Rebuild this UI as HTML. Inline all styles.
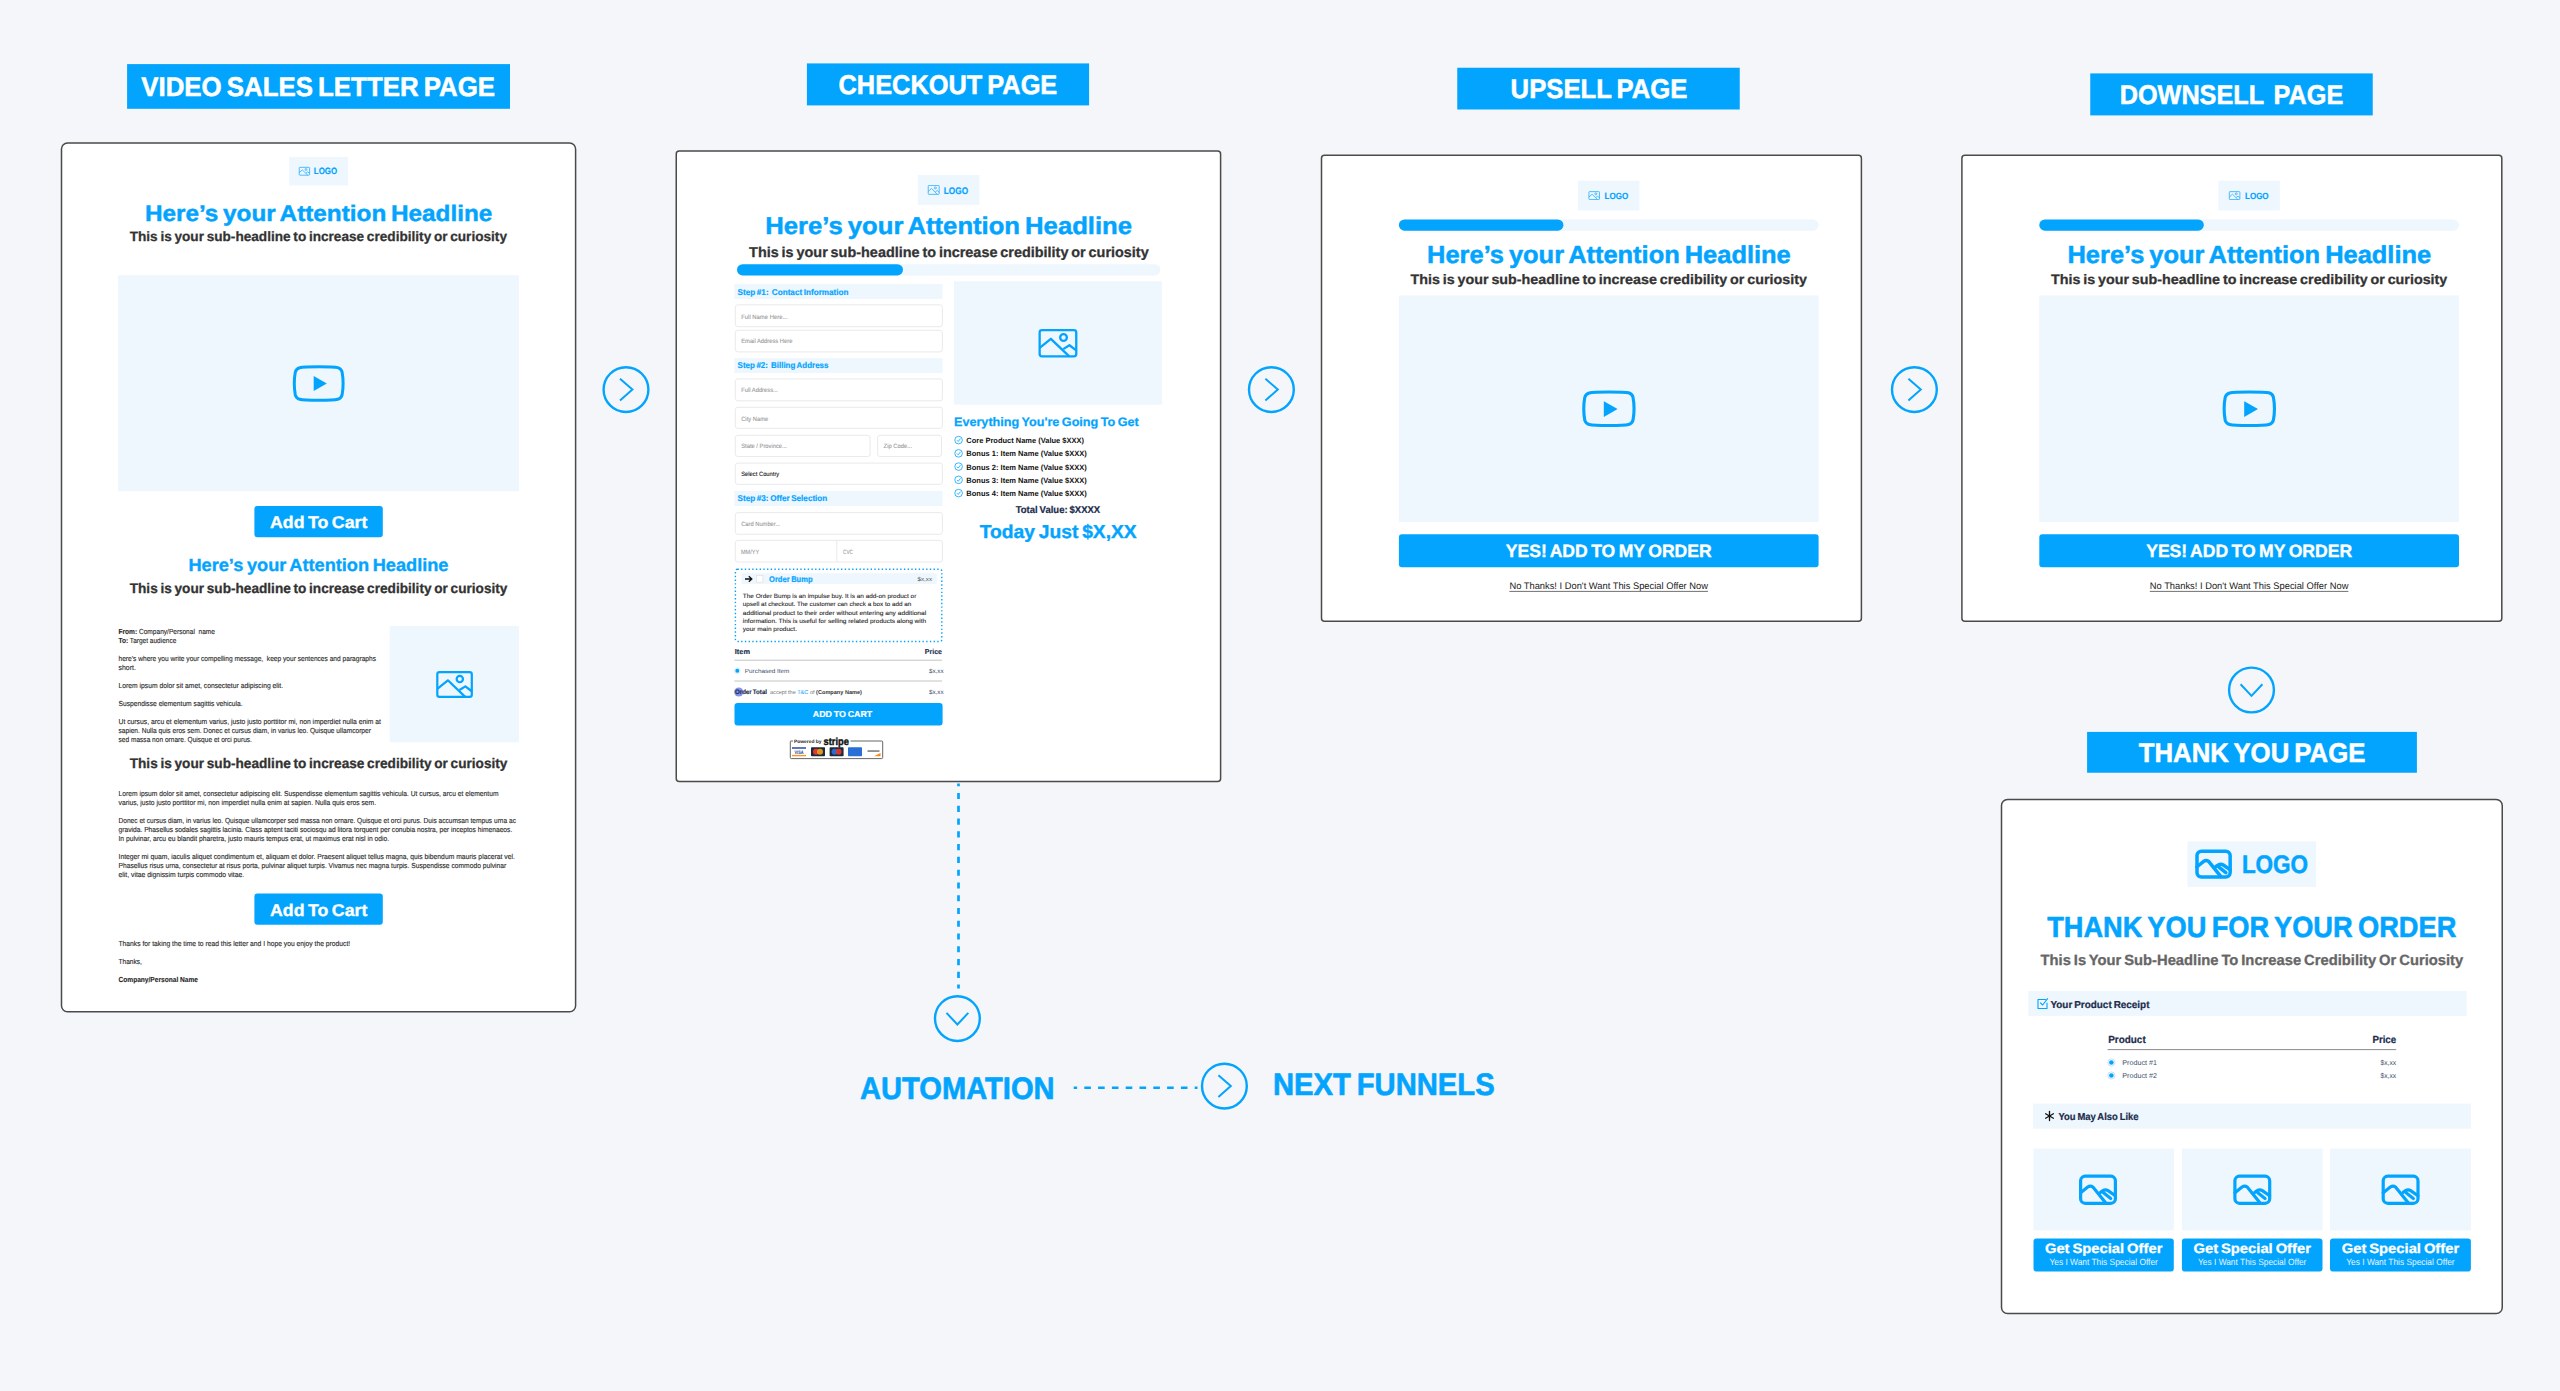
<!DOCTYPE html>
<html><head><meta charset="utf-8"><title>Funnel</title>
<style>html,body{margin:0;padding:0;background:#f4f6f9;overflow:hidden;width:2560px;height:1391px;}svg{display:block;}text{font-family:"Liberation Sans",sans-serif;}</style>
</head><body>
<svg width="2560" height="1391" viewBox="0 0 2560 1391" font-family="Liberation Sans, sans-serif" text-rendering="geometricPrecision">
<rect x="0.00" y="0.00" width="2560.00" height="1391.00" fill="#f4f6f9" />
<rect x="127.10" y="64.10" width="382.90" height="44.70" fill="#03a4fe" />
<text x="318.15" y="96.00" font-size="27.00" fill="#ffffff" font-weight="700" word-spacing="-2.16" stroke="#ffffff" stroke-width="0.54" stroke-linejoin="round" text-anchor="middle" textLength="353.70" lengthAdjust="spacingAndGlyphs" xml:space="preserve">VIDEO SALES LETTER PAGE</text>
<rect x="61.50" y="143.00" width="514.10" height="868.80" rx="6" fill="#ffffff" stroke="#4a4a4a" stroke-width="1.5" />
<rect x="289.30" y="157.00" width="58.60" height="28.40" fill="#eef6fe" />
<g opacity="0.8">
<g fill="none" stroke="#03a4fe" stroke-width="0.85" stroke-linejoin="round">
<rect x="299.23" y="167.33" width="10.35" height="7.85" rx="0.67"/>
<path d="M299.23,172.64 L302.36,169.90 L307.65,175.17"/>
<path d="M305.91,173.03 L307.70,171.86 L309.57,173.43"/>
<circle cx="306.00" cy="169.51" r="0.96"/>
</g>
</g>
<text x="313.80" y="174.00" font-size="9.20" fill="#03a4fe" font-weight="700" word-spacing="-0.74" stroke="#03a4fe" stroke-width="0.18" stroke-linejoin="round" textLength="23.30" lengthAdjust="spacingAndGlyphs" >LOGO</text>
<text x="318.60" y="220.80" font-size="22.60" fill="#03a4fe" font-weight="700" word-spacing="-1.81" stroke="#03a4fe" stroke-width="0.45" stroke-linejoin="round" text-anchor="middle" textLength="347.40" lengthAdjust="spacingAndGlyphs" >Here’s your Attention Headline</text>
<text x="318.35" y="241.30" font-size="13.60" fill="#333333" font-weight="700" word-spacing="-1.09" stroke="#333333" stroke-width="0.27" stroke-linejoin="round" text-anchor="middle" textLength="377.30" lengthAdjust="spacingAndGlyphs" >This is your sub-headline to increase credibility or curiosity</text>
<rect x="118.20" y="275.30" width="400.70" height="216.00" fill="#eef6fe" />
<path transform="translate(294.30,366.70) scale(2.2182,2.1734) translate(-1,-4)" d="M22.54 6.42a2.78 2.78 0 0 0-1.94-2C18.88 4 12 4 12 4s-6.88 0-8.6.46a2.78 2.78 0 0 0-1.94 2A29 29 0 0 0 1 11.75a29 29 0 0 0 .46 5.33A2.78 2.78 0 0 0 3.4 19c1.72.46 8.6.46 8.6.46s6.88 0 8.6-.46a2.78 2.78 0 0 0 1.94-2 29 29 0 0 0 .46-5.25 29 29 0 0 0-.46-5.33z" fill="none" stroke="#03a4fe" stroke-width="3.0" vector-effect="non-scaling-stroke" stroke-linejoin="round"/>
<path d="M313.70,376.00 L326.80,383.45 L313.70,390.90 Z" fill="#03a4fe"/>
<rect x="254.40" y="505.90" width="128.40" height="31.35" rx="3" fill="#03a4fe" />
<text x="318.65" y="528.00" font-size="17.00" fill="#ffffff" font-weight="700" word-spacing="-1.36" stroke="#ffffff" stroke-width="0.34" stroke-linejoin="round" text-anchor="middle" textLength="97.30" lengthAdjust="spacingAndGlyphs" >Add To Cart</text>
<text x="318.45" y="571.20" font-size="17.60" fill="#03a4fe" font-weight="700" word-spacing="-1.41" stroke="#03a4fe" stroke-width="0.35" stroke-linejoin="round" text-anchor="middle" textLength="260.10" lengthAdjust="spacingAndGlyphs" >Here’s your Attention Headline</text>
<text x="318.55" y="593.00" font-size="13.90" fill="#333333" font-weight="700" word-spacing="-1.11" stroke="#333333" stroke-width="0.28" stroke-linejoin="round" text-anchor="middle" textLength="377.70" lengthAdjust="spacingAndGlyphs" >This is your sub-headline to increase credibility or curiosity</text>
<text x="118.5" y="633.9" font-size="7.3" fill="#262626" stroke="#262626" stroke-width="0.11" textLength="96.5" lengthAdjust="spacingAndGlyphs" xml:space="preserve"><tspan font-weight="700">From:</tspan> Company/Personal  name</text>
<text x="118.5" y="642.9" font-size="7.3" fill="#262626" stroke="#262626" stroke-width="0.11" textLength="57.9" lengthAdjust="spacingAndGlyphs"><tspan font-weight="700">To:</tspan> Target audience</text>
<text x="118.50" y="661.10" font-size="7.30" fill="#262626" stroke="#262626" stroke-width="0.11" stroke-linejoin="round" textLength="257.50" lengthAdjust="spacingAndGlyphs" xml:space="preserve">here’s where you write your compelling message,  keep your sentences and paragraphs</text>
<text x="118.50" y="670.00" font-size="7.30" fill="#262626" stroke="#262626" stroke-width="0.11" stroke-linejoin="round" textLength="17.30" lengthAdjust="spacingAndGlyphs" >short.</text>
<text x="118.50" y="688.00" font-size="7.30" fill="#262626" stroke="#262626" stroke-width="0.11" stroke-linejoin="round" textLength="164.60" lengthAdjust="spacingAndGlyphs" >Lorem ipsum dolor sit amet, consectetur adipiscing elit.</text>
<text x="118.50" y="706.20" font-size="7.30" fill="#262626" stroke="#262626" stroke-width="0.11" stroke-linejoin="round" textLength="124.10" lengthAdjust="spacingAndGlyphs" >Suspendisse elementum sagittis vehicula.</text>
<text x="118.50" y="724.30" font-size="7.30" fill="#262626" stroke="#262626" stroke-width="0.11" stroke-linejoin="round" textLength="262.50" lengthAdjust="spacingAndGlyphs" >Ut cursus, arcu et elementum varius, justo justo porttitor mi, non imperdiet nulla enim at</text>
<text x="118.50" y="733.30" font-size="7.30" fill="#262626" stroke="#262626" stroke-width="0.11" stroke-linejoin="round" textLength="252.40" lengthAdjust="spacingAndGlyphs" >sapien. Nulla quis eros sem. Donec et cursus diam, in varius leo. Quisque ullamcorper</text>
<text x="118.50" y="742.30" font-size="7.30" fill="#262626" stroke="#262626" stroke-width="0.11" stroke-linejoin="round" textLength="133.40" lengthAdjust="spacingAndGlyphs" >sed massa non ornare. Quisque et orci purus.</text>
<rect x="389.70" y="625.85" width="129.20" height="116.45" fill="#eef6fe" />
<g fill="none" stroke="#03a4fe" stroke-width="2.2" stroke-linejoin="round">
<rect x="437.30" y="672.10" width="34.50" height="24.80" rx="2.20"/>
<path d="M437.30,688.82 L447.87,680.32 L465.19,696.90"/>
<path d="M459.50,690.03 L465.38,686.39 L471.80,691.25"/>
<circle cx="459.80" cy="679.10" r="3.16"/>
</g>
<text x="318.55" y="767.80" font-size="13.90" fill="#333333" font-weight="700" word-spacing="-1.11" stroke="#333333" stroke-width="0.28" stroke-linejoin="round" text-anchor="middle" textLength="377.70" lengthAdjust="spacingAndGlyphs" >This is your sub-headline to increase credibility or curiosity</text>
<text x="118.50" y="795.50" font-size="7.30" fill="#262626" stroke="#262626" stroke-width="0.11" stroke-linejoin="round" textLength="380.00" lengthAdjust="spacingAndGlyphs" >Lorem ipsum dolor sit amet, consectetur adipiscing elit. Suspendisse elementum sagittis vehicula. Ut cursus, arcu et elementum</text>
<text x="118.50" y="804.50" font-size="7.30" fill="#262626" stroke="#262626" stroke-width="0.11" stroke-linejoin="round" textLength="257.60" lengthAdjust="spacingAndGlyphs" >varius, justo justo porttitor mi, non imperdiet nulla enim at sapien. Nulla quis eros sem.</text>
<text x="118.50" y="822.70" font-size="7.30" fill="#262626" stroke="#262626" stroke-width="0.11" stroke-linejoin="round" textLength="397.50" lengthAdjust="spacingAndGlyphs" >Donec et cursus diam, in varius leo. Quisque ullamcorper sed massa non ornare. Quisque et orci purus. Duis accumsan tempus urna ac</text>
<text x="118.50" y="831.70" font-size="7.30" fill="#262626" stroke="#262626" stroke-width="0.11" stroke-linejoin="round" textLength="393.80" lengthAdjust="spacingAndGlyphs" >gravida. Phasellus sodales sagittis lacinia. Class aptent taciti sociosqu ad litora torquent per conubia nostra, per inceptos himenaeos.</text>
<text x="118.50" y="840.80" font-size="7.30" fill="#262626" stroke="#262626" stroke-width="0.11" stroke-linejoin="round" textLength="270.70" lengthAdjust="spacingAndGlyphs" >In pulvinar, arcu eu blandit pharetra, justo mauris tempus erat, ut maximus erat nisl in odio.</text>
<text x="118.50" y="858.80" font-size="7.30" fill="#262626" stroke="#262626" stroke-width="0.11" stroke-linejoin="round" textLength="396.40" lengthAdjust="spacingAndGlyphs" >Integer mi quam, iaculis aliquet condimentum et, aliquam et dolor. Praesent aliquet tellus magna, quis bibendum mauris placerat vel.</text>
<text x="118.50" y="867.80" font-size="7.30" fill="#262626" stroke="#262626" stroke-width="0.11" stroke-linejoin="round" textLength="387.70" lengthAdjust="spacingAndGlyphs" >Phasellus risus urna, consectetur at risus porta, pulvinar aliquet turpis. Vivamus nec magna turpis. Suspendisse commodo pulvinar</text>
<text x="118.50" y="876.90" font-size="7.30" fill="#262626" stroke="#262626" stroke-width="0.11" stroke-linejoin="round" textLength="125.70" lengthAdjust="spacingAndGlyphs" >elit, vitae dignissim turpis commodo vitae.</text>
<rect x="254.40" y="893.40" width="128.40" height="31.30" rx="3" fill="#03a4fe" />
<text x="318.65" y="915.50" font-size="17.00" fill="#ffffff" font-weight="700" word-spacing="-1.36" stroke="#ffffff" stroke-width="0.34" stroke-linejoin="round" text-anchor="middle" textLength="97.30" lengthAdjust="spacingAndGlyphs" >Add To Cart</text>
<text x="118.50" y="945.60" font-size="7.30" fill="#262626" stroke="#262626" stroke-width="0.11" stroke-linejoin="round" textLength="231.70" lengthAdjust="spacingAndGlyphs" >Thanks for taking the time to read this letter and I hope you enjoy the product!</text>
<text x="118.50" y="963.70" font-size="7.30" fill="#262626" stroke="#262626" stroke-width="0.11" stroke-linejoin="round" textLength="23.40" lengthAdjust="spacingAndGlyphs" >Thanks,</text>
<text x="118.50" y="981.70" font-size="7.30" fill="#262626" font-weight="700" stroke="#262626" stroke-width="0.11" stroke-linejoin="round" textLength="79.50" lengthAdjust="spacingAndGlyphs" >Company/Personal Name</text>
<rect x="806.90" y="63.40" width="282.20" height="42.00" fill="#03a4fe" />
<text x="947.90" y="94.40" font-size="27.00" fill="#ffffff" font-weight="700" word-spacing="-2.16" stroke="#ffffff" stroke-width="0.54" stroke-linejoin="round" text-anchor="middle" textLength="218.80" lengthAdjust="spacingAndGlyphs" xml:space="preserve">CHECKOUT PAGE</text>
<rect x="676.25" y="151.00" width="544.35" height="630.50" rx="3" fill="#ffffff" stroke="#4a4a4a" stroke-width="1.5" />
<rect x="917.75" y="175.00" width="61.65" height="29.80" fill="#eef6fe" />
<g opacity="0.8">
<g fill="none" stroke="#03a4fe" stroke-width="0.85" stroke-linejoin="round">
<rect x="928.22" y="185.43" width="10.95" height="8.95" rx="0.71"/>
<path d="M928.22,191.47 L931.55,188.38 L937.12,194.38"/>
<path d="M935.29,191.91 L937.18,190.59 L939.18,192.35"/>
<circle cx="935.39" cy="187.94" r="1.01"/>
</g>
</g>
<text x="943.80" y="193.80" font-size="9.60" fill="#03a4fe" font-weight="700" word-spacing="-0.77" stroke="#03a4fe" stroke-width="0.19" stroke-linejoin="round" textLength="24.30" lengthAdjust="spacingAndGlyphs" >LOGO</text>
<text x="948.65" y="234.20" font-size="24.20" fill="#03a4fe" font-weight="700" word-spacing="-1.94" stroke="#03a4fe" stroke-width="0.48" stroke-linejoin="round" text-anchor="middle" textLength="366.70" lengthAdjust="spacingAndGlyphs" >Here’s your Attention Headline</text>
<text x="948.90" y="256.60" font-size="14.20" fill="#333333" font-weight="700" word-spacing="-1.14" stroke="#333333" stroke-width="0.28" stroke-linejoin="round" text-anchor="middle" textLength="399.60" lengthAdjust="spacingAndGlyphs" >This is your sub-headline to increase credibility or curiosity</text>
<rect x="737.00" y="264.20" width="423.40" height="11.30" rx="5.65" fill="#eef6fe" />
<rect x="737.00" y="264.20" width="166.00" height="11.30" rx="5.65" fill="#03a4fe" />
<rect x="734.40" y="284.00" width="208.10" height="14.90" fill="#eef6fe" />
<text x="737.60" y="294.70" font-size="8.40" fill="#03a4fe" font-weight="700" word-spacing="-0.67" stroke="#03a4fe" stroke-width="0.17" stroke-linejoin="round" textLength="110.90" lengthAdjust="spacingAndGlyphs" xml:space="preserve">Step #1:  Contact Information</text>
<rect x="735.30" y="304.80" width="207.10" height="21.90" rx="2.5" fill="#ffffff" stroke="#e4e4e4" stroke-width="0.8" />
<text x="741.20" y="318.60" font-size="6.20" fill="#9d9d9d" stroke="#9d9d9d" stroke-width="0.12" stroke-linejoin="round" textLength="46.20" lengthAdjust="spacingAndGlyphs" >Full Name Here...</text>
<rect x="735.30" y="330.30" width="207.10" height="21.60" rx="2.5" fill="#ffffff" stroke="#e4e4e4" stroke-width="0.8" />
<text x="741.20" y="342.90" font-size="6.20" fill="#9d9d9d" stroke="#9d9d9d" stroke-width="0.12" stroke-linejoin="round" textLength="51.20" lengthAdjust="spacingAndGlyphs" >Email Address Here</text>
<rect x="734.40" y="358.20" width="208.10" height="14.70" fill="#eef6fe" />
<text x="737.60" y="368.40" font-size="8.40" fill="#03a4fe" font-weight="700" word-spacing="-0.67" stroke="#03a4fe" stroke-width="0.17" stroke-linejoin="round" textLength="90.80" lengthAdjust="spacingAndGlyphs" xml:space="preserve">Step #2:  Billing Address</text>
<rect x="735.30" y="378.90" width="207.10" height="21.90" rx="2.5" fill="#ffffff" stroke="#e4e4e4" stroke-width="0.8" />
<text x="741.20" y="392.30" font-size="6.20" fill="#9d9d9d" stroke="#9d9d9d" stroke-width="0.12" stroke-linejoin="round" textLength="36.70" lengthAdjust="spacingAndGlyphs" >Full Address...</text>
<rect x="735.30" y="407.30" width="207.10" height="21.10" rx="2.5" fill="#ffffff" stroke="#e4e4e4" stroke-width="0.8" />
<text x="741.20" y="420.70" font-size="6.20" fill="#9d9d9d" stroke="#9d9d9d" stroke-width="0.12" stroke-linejoin="round" textLength="27.00" lengthAdjust="spacingAndGlyphs" >City Name</text>
<rect x="735.30" y="435.30" width="134.80" height="21.20" rx="2.5" fill="#ffffff" stroke="#e4e4e4" stroke-width="0.8" />
<text x="741.20" y="448.20" font-size="6.20" fill="#9d9d9d" stroke="#9d9d9d" stroke-width="0.12" stroke-linejoin="round" textLength="45.70" lengthAdjust="spacingAndGlyphs" >State / Province...</text>
<rect x="877.60" y="435.30" width="63.90" height="21.20" rx="2.5" fill="#ffffff" stroke="#e4e4e4" stroke-width="0.8" />
<text x="883.60" y="448.20" font-size="6.20" fill="#9d9d9d" stroke="#9d9d9d" stroke-width="0.12" stroke-linejoin="round" textLength="28.40" lengthAdjust="spacingAndGlyphs" >Zip Code...</text>
<rect x="735.30" y="463.10" width="207.10" height="21.30" rx="2.5" fill="#ffffff" stroke="#e4e4e4" stroke-width="0.8" />
<text x="741.20" y="476.30" font-size="6.20" fill="#222222" stroke="#222222" stroke-width="0.12" stroke-linejoin="round" textLength="38.10" lengthAdjust="spacingAndGlyphs" >Select Country</text>
<rect x="734.40" y="491.00" width="208.10" height="14.90" fill="#eef6fe" />
<text x="737.60" y="501.25" font-size="8.40" fill="#03a4fe" font-weight="700" word-spacing="-0.67" stroke="#03a4fe" stroke-width="0.17" stroke-linejoin="round" textLength="89.70" lengthAdjust="spacingAndGlyphs" xml:space="preserve">Step #3: Offer Selection</text>
<rect x="735.30" y="512.60" width="207.10" height="21.70" rx="2.5" fill="#ffffff" stroke="#e4e4e4" stroke-width="0.8" />
<text x="741.20" y="525.70" font-size="6.20" fill="#9d9d9d" stroke="#9d9d9d" stroke-width="0.12" stroke-linejoin="round" textLength="39.00" lengthAdjust="spacingAndGlyphs" >Card Number...</text>
<rect x="735.30" y="540.40" width="207.10" height="21.60" rx="2.5" fill="#ffffff" stroke="#e4e4e4" stroke-width="0.8" />
<line x1="836.8" y1="540.8" x2="836.8" y2="561.6" stroke="#e4e4e4" stroke-width="0.8"/>
<text x="741.00" y="553.90" font-size="6.20" fill="#9d9d9d" stroke="#9d9d9d" stroke-width="0.12" stroke-linejoin="round" textLength="18.20" lengthAdjust="spacingAndGlyphs" >MM/YY</text>
<text x="843.10" y="553.90" font-size="6.20" fill="#9d9d9d" stroke="#9d9d9d" stroke-width="0.12" stroke-linejoin="round" textLength="9.90" lengthAdjust="spacingAndGlyphs" >CVC</text>
<rect x="735.4" y="569.2" width="206.4" height="72.3" fill="none" stroke="#03a4fe" stroke-width="1.4" stroke-dasharray="1.4,2.3" rx="2"/>
<rect x="741.60" y="573.30" width="195.00" height="10.70" fill="#eef6fe" />
<path d="M745,579 L751.5,579 M748.8,576.2 L751.8,579 L748.8,581.8" fill="none" stroke="#111" stroke-width="1.3"/>
<rect x="756.30" y="575.60" width="6.60" height="6.60" fill="#ffffff" stroke="#dddddd" stroke-width="0.6" />
<text x="769.00" y="581.80" font-size="8.30" fill="#03a4fe" font-weight="700" word-spacing="-0.66" stroke="#03a4fe" stroke-width="0.17" stroke-linejoin="round" textLength="43.60" lengthAdjust="spacingAndGlyphs" >Order Bump</text>
<text x="917.50" y="580.50" font-size="5.60" fill="#555555" textLength="14.50" lengthAdjust="spacingAndGlyphs" >$x,xx</text>
<text x="742.80" y="598.00" font-size="6.00" fill="#262626" stroke="#262626" stroke-width="0.09" stroke-linejoin="round" textLength="173.50" lengthAdjust="spacingAndGlyphs" >The Order Bump is an impulse buy. It is an add-on product or</text>
<text x="742.80" y="606.20" font-size="6.00" fill="#262626" stroke="#262626" stroke-width="0.09" stroke-linejoin="round" textLength="168.60" lengthAdjust="spacingAndGlyphs" >upsell at checkout. The customer can check a box to add an</text>
<text x="742.80" y="614.50" font-size="6.00" fill="#262626" stroke="#262626" stroke-width="0.09" stroke-linejoin="round" textLength="183.40" lengthAdjust="spacingAndGlyphs" >additional product to their order without entering any additional</text>
<text x="742.80" y="622.80" font-size="6.00" fill="#262626" stroke="#262626" stroke-width="0.09" stroke-linejoin="round" textLength="183.40" lengthAdjust="spacingAndGlyphs" >information. This is useful for selling related products along with</text>
<text x="742.80" y="631.20" font-size="6.00" fill="#262626" stroke="#262626" stroke-width="0.09" stroke-linejoin="round" textLength="54.20" lengthAdjust="spacingAndGlyphs" >your main product.</text>
<text x="734.80" y="653.60" font-size="7.20" fill="#1c2d4c" font-weight="700" word-spacing="-0.58" stroke="#1c2d4c" stroke-width="0.14" stroke-linejoin="round" textLength="15.20" lengthAdjust="spacingAndGlyphs" >Item</text>
<text x="924.80" y="653.60" font-size="7.20" fill="#1c2d4c" font-weight="700" word-spacing="-0.58" stroke="#1c2d4c" stroke-width="0.14" stroke-linejoin="round" textLength="17.20" lengthAdjust="spacingAndGlyphs" >Price</text>
<line x1="734.4" y1="660.2" x2="942" y2="660.2" stroke="#bdbdbd" stroke-width="0.9"/>
<circle cx="737.3" cy="670.75" r="3.2" fill="#dbeeff"/><circle cx="737.3" cy="670.75" r="1.9" fill="#03a4fe"/>
<text x="744.80" y="672.80" font-size="6.00" fill="#3d4f6b" textLength="44.60" lengthAdjust="spacingAndGlyphs" >Purchased Item</text>
<text x="929.00" y="672.80" font-size="6.00" fill="#3d4f6b" textLength="14.60" lengthAdjust="spacingAndGlyphs" >$x,xx</text>
<line x1="734.4" y1="681" x2="942" y2="681" stroke="#bdbdbd" stroke-width="0.9"/>
<circle cx="738.75" cy="692" r="4.6" fill="#5b6ee8" opacity="0.75"/>
<text x="735.00" y="694.40" font-size="6.60" fill="#1c2d4c" font-weight="700" word-spacing="-0.53" stroke="#1c2d4c" stroke-width="0.13" stroke-linejoin="round" textLength="32.00" lengthAdjust="spacingAndGlyphs" >Order Total</text>
<text x="770" y="694" font-size="5.6" fill="#777" textLength="92" lengthAdjust="spacingAndGlyphs">accept the <tspan fill="#03a4fe">T&amp;C</tspan> of <tspan font-weight="700" fill="#333">(Company Name)</tspan></text>
<text x="929.00" y="694.40" font-size="6.00" fill="#3d4f6b" textLength="14.60" lengthAdjust="spacingAndGlyphs" >$x,xx</text>
<rect x="734.50" y="703.00" width="208.10" height="22.50" rx="3" fill="#03a4fe" />
<text x="842.55" y="717.00" font-size="8.60" fill="#ffffff" font-weight="700" word-spacing="-0.69" stroke="#ffffff" stroke-width="0.17" stroke-linejoin="round" text-anchor="middle" textLength="59.50" lengthAdjust="spacingAndGlyphs" >ADD TO CART</text>
<path d="M793,741 L790.8,741 Q790.3,741 790.3,742 L790.3,757.6 Q790.3,758.6 791.3,758.6 L881.7,758.6 Q882.7,758.6 882.7,757.6 L882.7,742 Q882.7,741 881.7,741 L850.5,741" fill="none" stroke="#555" stroke-width="0.9"/>
<text x="794.00" y="742.60" font-size="4.80" fill="#222" font-weight="700" textLength="27.50" lengthAdjust="spacingAndGlyphs" >Powered by</text>
<text x="823.60" y="744.60" font-size="10.50" fill="#111" font-weight="700" stroke="#111" stroke-width="0.42" stroke-linejoin="round" textLength="25.30" lengthAdjust="spacingAndGlyphs" >stripe</text>
<rect x="792.00" y="747.30" width="14.00" height="9.00" fill="#ffffff" />
<rect x="792.00" y="747.30" width="14.00" height="1.40" fill="#1a3fa3" />
<rect x="792.00" y="754.90" width="14.00" height="1.40" fill="#f29a1f" />
<text x="794.50" y="753.60" font-size="5.00" fill="#1a3fa3" font-weight="700" textLength="9.00" lengthAdjust="spacingAndGlyphs" >VISA</text>
<rect x="811.00" y="747.30" width="14.00" height="9.00" rx="0.8" fill="#1d2a3a" />
<circle cx="816" cy="751.8" r="3" fill="#e23a2e"/><circle cx="820" cy="751.8" r="3" fill="#f4a11c" opacity="0.9"/>
<rect x="829.60" y="747.30" width="14.00" height="9.00" rx="0.8" fill="#1d2a3a" />
<circle cx="834.6" cy="751.8" r="3" fill="#2b6bd1"/><circle cx="838.6" cy="751.8" r="3" fill="#e23a2e" opacity="0.9"/>
<rect x="848.00" y="747.30" width="14.00" height="9.00" rx="0.8" fill="#2a6fd6" />
<rect x="866.50" y="747.30" width="14.00" height="9.00" fill="#ffffff" />
<rect x="867.50" y="750.30" width="12.00" height="1.50" fill="#777" />
<path d="M874,756.3 L880.5,756.3 L880.5,753 Z" fill="#f28a1f"/>
<rect x="954.00" y="281.40" width="207.80" height="123.20" fill="#eef6fe" />
<g fill="none" stroke="#03a4fe" stroke-width="2.3" stroke-linejoin="round">
<rect x="1039.65" y="330.05" width="36.60" height="26.40" rx="2.33"/>
<path d="M1039.65,347.84 L1050.87,338.80 L1069.23,356.45"/>
<path d="M1063.20,349.13 L1069.43,345.26 L1076.25,350.43"/>
<circle cx="1063.51" cy="337.51" r="3.35"/>
</g>
<text x="954.00" y="426.00" font-size="12.30" fill="#03a4fe" font-weight="700" word-spacing="-0.98" stroke="#03a4fe" stroke-width="0.25" stroke-linejoin="round" textLength="184.80" lengthAdjust="spacingAndGlyphs" >Everything You're Going To Get</text>
<circle cx="958.60" cy="440.10" r="3.8" fill="none" stroke="#03a4fe" stroke-width="0.8"/>
<path d="M956.90,440.20 L958.20,441.50 L960.50,438.60" fill="none" stroke="#03a4fe" stroke-width="0.8"/>
<text x="966.30" y="443.00" font-size="7.60" fill="#111111" font-weight="700" textLength="117.70" lengthAdjust="spacingAndGlyphs" >Core Product Name (Value $XXX)</text>
<circle cx="958.60" cy="453.35" r="3.8" fill="none" stroke="#03a4fe" stroke-width="0.8"/>
<path d="M956.90,453.45 L958.20,454.75 L960.50,451.85" fill="none" stroke="#03a4fe" stroke-width="0.8"/>
<text x="966.30" y="456.25" font-size="7.60" fill="#111111" font-weight="700" textLength="120.40" lengthAdjust="spacingAndGlyphs" >Bonus 1: Item Name (Value $XXX)</text>
<circle cx="958.60" cy="466.60" r="3.8" fill="none" stroke="#03a4fe" stroke-width="0.8"/>
<path d="M956.90,466.70 L958.20,468.00 L960.50,465.10" fill="none" stroke="#03a4fe" stroke-width="0.8"/>
<text x="966.30" y="469.50" font-size="7.60" fill="#111111" font-weight="700" textLength="120.40" lengthAdjust="spacingAndGlyphs" >Bonus 2: Item Name (Value $XXX)</text>
<circle cx="958.60" cy="479.85" r="3.8" fill="none" stroke="#03a4fe" stroke-width="0.8"/>
<path d="M956.90,479.95 L958.20,481.25 L960.50,478.35" fill="none" stroke="#03a4fe" stroke-width="0.8"/>
<text x="966.30" y="482.75" font-size="7.60" fill="#111111" font-weight="700" textLength="120.40" lengthAdjust="spacingAndGlyphs" >Bonus 3: Item Name (Value $XXX)</text>
<circle cx="958.60" cy="493.10" r="3.8" fill="none" stroke="#03a4fe" stroke-width="0.8"/>
<path d="M956.90,493.20 L958.20,494.50 L960.50,491.60" fill="none" stroke="#03a4fe" stroke-width="0.8"/>
<text x="966.30" y="496.00" font-size="7.60" fill="#111111" font-weight="700" textLength="120.40" lengthAdjust="spacingAndGlyphs" >Bonus 4: Item Name (Value $XXX)</text>
<text x="1057.95" y="512.60" font-size="10.00" fill="#1c2d4c" font-weight="700" word-spacing="-0.80" stroke="#1c2d4c" stroke-width="0.20" stroke-linejoin="round" text-anchor="middle" textLength="84.50" lengthAdjust="spacingAndGlyphs" >Total Value: $XXXX</text>
<text x="1058.22" y="538.10" font-size="18.80" fill="#03a4fe" font-weight="700" word-spacing="-1.50" stroke="#03a4fe" stroke-width="0.38" stroke-linejoin="round" text-anchor="middle" textLength="156.95" lengthAdjust="spacingAndGlyphs" >Today Just $X,XX</text>
<rect x="1457.25" y="67.75" width="282.50" height="41.75" fill="#03a4fe" />
<text x="1599.05" y="98.10" font-size="27.00" fill="#ffffff" font-weight="700" word-spacing="-2.16" stroke="#ffffff" stroke-width="0.54" stroke-linejoin="round" text-anchor="middle" textLength="176.90" lengthAdjust="spacingAndGlyphs" xml:space="preserve">UPSELL PAGE</text>
<rect x="2090.25" y="73.40" width="282.50" height="42.00" fill="#03a4fe" />
<text x="2231.50" y="104.10" font-size="27.00" fill="#ffffff" font-weight="700" word-spacing="-2.16" stroke="#ffffff" stroke-width="0.54" stroke-linejoin="round" text-anchor="middle" textLength="223.50" lengthAdjust="spacingAndGlyphs" xml:space="preserve">DOWNSELL  PAGE</text>
<rect x="1321.50" y="155.25" width="539.90" height="465.95" rx="3" fill="#ffffff" stroke="#4a4a4a" stroke-width="1.5" />
<rect x="1578.00" y="180.70" width="61.40" height="29.70" fill="#eef6fe" />
<g opacity="0.8">
<g fill="none" stroke="#03a4fe" stroke-width="0.85" stroke-linejoin="round">
<rect x="1588.92" y="191.62" width="10.55" height="7.95" rx="0.68"/>
<path d="M1588.92,197.01 L1592.13,194.24 L1597.51,199.57"/>
<path d="M1595.74,197.40 L1597.56,196.22 L1599.48,197.80"/>
<circle cx="1595.83" cy="193.84" r="0.98"/>
</g>
</g>
<text x="1604.60" y="199.00" font-size="9.00" fill="#03a4fe" font-weight="700" word-spacing="-0.72" stroke="#03a4fe" stroke-width="0.18" stroke-linejoin="round" textLength="23.60" lengthAdjust="spacingAndGlyphs" >LOGO</text>
<rect x="1398.90" y="219.40" width="419.70" height="11.35" rx="5.6" fill="#eef6fe" />
<rect x="1398.90" y="219.40" width="164.50" height="11.35" rx="5.6" fill="#03a4fe" />
<text x="1608.92" y="262.60" font-size="24.60" fill="#03a4fe" font-weight="700" word-spacing="-1.97" stroke="#03a4fe" stroke-width="0.49" stroke-linejoin="round" text-anchor="middle" textLength="363.65" lengthAdjust="spacingAndGlyphs" >Here’s your Attention Headline</text>
<text x="1608.75" y="284.10" font-size="13.70" fill="#333333" font-weight="700" word-spacing="-1.10" stroke="#333333" stroke-width="0.27" stroke-linejoin="round" text-anchor="middle" textLength="396.30" lengthAdjust="spacingAndGlyphs" >This is your sub-headline to increase credibility or curiosity</text>
<rect x="1398.90" y="295.50" width="419.70" height="226.50" fill="#eef6fe" />
<path transform="translate(1583.75,391.95) scale(2.2864,2.1734) translate(-1,-4)" d="M22.54 6.42a2.78 2.78 0 0 0-1.94-2C18.88 4 12 4 12 4s-6.88 0-8.6.46a2.78 2.78 0 0 0-1.94 2A29 29 0 0 0 1 11.75a29 29 0 0 0 .46 5.33A2.78 2.78 0 0 0 3.4 19c1.72.46 8.6.46 8.6.46s6.88 0 8.6-.46a2.78 2.78 0 0 0 1.94-2 29 29 0 0 0 .46-5.25 29 29 0 0 0-.46-5.33z" fill="none" stroke="#03a4fe" stroke-width="3.1" vector-effect="non-scaling-stroke" stroke-linejoin="round"/>
<path d="M1603.80,401.20 L1617.60,409.05 L1603.80,416.90 Z" fill="#03a4fe"/>
<rect x="1398.90" y="534.20" width="419.70" height="33.10" rx="3" fill="#03a4fe" />
<text x="1608.75" y="556.70" font-size="17.80" fill="#ffffff" font-weight="700" word-spacing="-1.42" stroke="#ffffff" stroke-width="0.36" stroke-linejoin="round" text-anchor="middle" textLength="205.90" lengthAdjust="spacingAndGlyphs" >YES! ADD TO MY ORDER</text>
<text x="1608.70" y="589.40" font-size="9.60" fill="#222222" text-anchor="middle" textLength="198.60" lengthAdjust="spacingAndGlyphs" >No Thanks! I Don't Want This Special Offer Now</text>
<line x1="1509.4" y1="591.4" x2="1708.0" y2="591.4" stroke="#333" stroke-width="0.7"/>
<rect x="1961.90" y="155.25" width="539.90" height="465.95" rx="3" fill="#ffffff" stroke="#4a4a4a" stroke-width="1.5" />
<rect x="2218.40" y="180.70" width="61.40" height="29.70" fill="#eef6fe" />
<g opacity="0.8">
<g fill="none" stroke="#03a4fe" stroke-width="0.85" stroke-linejoin="round">
<rect x="2229.33" y="191.62" width="10.55" height="7.95" rx="0.68"/>
<path d="M2229.33,197.01 L2232.53,194.24 L2237.91,199.57"/>
<path d="M2236.14,197.40 L2237.96,196.22 L2239.88,197.80"/>
<circle cx="2236.23" cy="193.84" r="0.98"/>
</g>
</g>
<text x="2245.00" y="199.00" font-size="9.00" fill="#03a4fe" font-weight="700" word-spacing="-0.72" stroke="#03a4fe" stroke-width="0.18" stroke-linejoin="round" textLength="23.60" lengthAdjust="spacingAndGlyphs" >LOGO</text>
<rect x="2039.30" y="219.40" width="419.70" height="11.35" rx="5.6" fill="#eef6fe" />
<rect x="2039.30" y="219.40" width="164.50" height="11.35" rx="5.6" fill="#03a4fe" />
<text x="2249.32" y="262.60" font-size="24.60" fill="#03a4fe" font-weight="700" word-spacing="-1.97" stroke="#03a4fe" stroke-width="0.49" stroke-linejoin="round" text-anchor="middle" textLength="363.65" lengthAdjust="spacingAndGlyphs" >Here’s your Attention Headline</text>
<text x="2249.15" y="284.10" font-size="13.70" fill="#333333" font-weight="700" word-spacing="-1.10" stroke="#333333" stroke-width="0.27" stroke-linejoin="round" text-anchor="middle" textLength="396.30" lengthAdjust="spacingAndGlyphs" >This is your sub-headline to increase credibility or curiosity</text>
<rect x="2039.30" y="295.50" width="419.70" height="226.50" fill="#eef6fe" />
<path transform="translate(2224.15,391.95) scale(2.2864,2.1734) translate(-1,-4)" d="M22.54 6.42a2.78 2.78 0 0 0-1.94-2C18.88 4 12 4 12 4s-6.88 0-8.6.46a2.78 2.78 0 0 0-1.94 2A29 29 0 0 0 1 11.75a29 29 0 0 0 .46 5.33A2.78 2.78 0 0 0 3.4 19c1.72.46 8.6.46 8.6.46s6.88 0 8.6-.46a2.78 2.78 0 0 0 1.94-2 29 29 0 0 0 .46-5.25 29 29 0 0 0-.46-5.33z" fill="none" stroke="#03a4fe" stroke-width="3.1" vector-effect="non-scaling-stroke" stroke-linejoin="round"/>
<path d="M2244.20,401.20 L2258.00,409.05 L2244.20,416.90 Z" fill="#03a4fe"/>
<rect x="2039.30" y="534.20" width="419.70" height="33.10" rx="3" fill="#03a4fe" />
<text x="2249.15" y="556.70" font-size="17.80" fill="#ffffff" font-weight="700" word-spacing="-1.42" stroke="#ffffff" stroke-width="0.36" stroke-linejoin="round" text-anchor="middle" textLength="205.90" lengthAdjust="spacingAndGlyphs" >YES! ADD TO MY ORDER</text>
<text x="2249.10" y="589.40" font-size="9.60" fill="#222222" text-anchor="middle" textLength="198.60" lengthAdjust="spacingAndGlyphs" >No Thanks! I Don't Want This Special Offer Now</text>
<line x1="2149.8" y1="591.4" x2="2348.4" y2="591.4" stroke="#333" stroke-width="0.7"/>
<rect x="2087.10" y="731.90" width="329.80" height="40.85" fill="#03a4fe" />
<text x="2252.07" y="761.50" font-size="27.00" fill="#ffffff" font-weight="700" word-spacing="-2.16" stroke="#ffffff" stroke-width="0.54" stroke-linejoin="round" text-anchor="middle" textLength="226.65" lengthAdjust="spacingAndGlyphs" xml:space="preserve">THANK YOU PAGE</text>
<rect x="2001.50" y="799.40" width="500.75" height="514.10" rx="6" fill="#ffffff" stroke="#4a4a4a" stroke-width="1.5" />
<rect x="2187.50" y="841.50" width="128.75" height="45.40" fill="#eef6fe" />
<g fill="none" stroke="#03a4fe" stroke-width="3.5" stroke-linecap="round" stroke-linejoin="round">
<rect x="2197.00" y="851.15" width="33.15" height="25.85" rx="4.40"/>
<path d="M2196.79,867.01 L2203.68,861.43 Q2206.17,859.53 2208.66,861.43 L2220.91,876.70"/>
<path d="M2215.96,866.57 L2218.34,864.96 Q2220.80,863.34 2223.29,864.96 L2230.25,869.94"/>
<path d="M2218.89,867.01 L2225.85,872.59"/>
</g>
<text x="2241.90" y="872.75" font-size="25.50" fill="#03a4fe" font-weight="700" word-spacing="-2.04" stroke="#03a4fe" stroke-width="0.51" stroke-linejoin="round" textLength="66.20" lengthAdjust="spacingAndGlyphs" >LOGO</text>
<text x="2251.75" y="937.00" font-size="29.20" fill="#03a4fe" font-weight="700" word-spacing="-2.34" stroke="#03a4fe" stroke-width="0.58" stroke-linejoin="round" text-anchor="middle" textLength="409.10" lengthAdjust="spacingAndGlyphs" >THANK YOU FOR YOUR ORDER</text>
<text x="2251.90" y="964.70" font-size="14.80" fill="#666666" font-weight="700" word-spacing="-1.18" stroke="#666666" stroke-width="0.30" stroke-linejoin="round" text-anchor="middle" textLength="422.60" lengthAdjust="spacingAndGlyphs" >This Is Your Sub-Headline To Increase Credibility Or Curiosity</text>
<rect x="2028.40" y="991.00" width="438.20" height="24.80" fill="#eef6fe" />
<g fill="none" stroke="#03a4fe" stroke-width="1.1" stroke-linecap="round" stroke-linejoin="round"><path d="M2045.5,999.5 L2038,999.5 L2038,1008.5 L2047,1008.5 L2047,1003"/><path d="M2040.5,1002.8 L2042.6,1005 L2047.6,998.6"/></g>
<text x="2050.40" y="1007.50" font-size="10.10" fill="#1c2d4c" font-weight="700" word-spacing="-0.81" stroke="#1c2d4c" stroke-width="0.20" stroke-linejoin="round" textLength="99.10" lengthAdjust="spacingAndGlyphs" >Your Product Receipt</text>
<text x="2108.20" y="1042.60" font-size="10.30" fill="#1c2d4c" font-weight="700" word-spacing="-0.82" stroke="#1c2d4c" stroke-width="0.21" stroke-linejoin="round" textLength="37.50" lengthAdjust="spacingAndGlyphs" >Product</text>
<text x="2372.40" y="1042.60" font-size="10.30" fill="#1c2d4c" font-weight="700" word-spacing="-0.82" stroke="#1c2d4c" stroke-width="0.21" stroke-linejoin="round" textLength="23.80" lengthAdjust="spacingAndGlyphs" >Price</text>
<line x1="2107.6" y1="1049.6" x2="2396.2" y2="1049.6" stroke="#8a8a8a" stroke-width="1"/>
<circle cx="2111.4" cy="1062.5" r="3.6" fill="#ffffff" stroke="#b9d9f5" stroke-width="0.8"/><circle cx="2111.4" cy="1062.5" r="2.3" fill="#03a4fe"/>
<text x="2122.30" y="1065.10" font-size="7.00" fill="#3d4f6b" textLength="34.70" lengthAdjust="spacingAndGlyphs" >Product #1</text>
<text x="2380.50" y="1065.10" font-size="7.00" fill="#3d4f6b" textLength="15.70" lengthAdjust="spacingAndGlyphs" >$x,xx</text>
<circle cx="2111.4" cy="1075.5" r="3.6" fill="#ffffff" stroke="#b9d9f5" stroke-width="0.8"/><circle cx="2111.4" cy="1075.5" r="2.3" fill="#03a4fe"/>
<text x="2122.30" y="1078.10" font-size="7.00" fill="#3d4f6b" textLength="34.70" lengthAdjust="spacingAndGlyphs" >Product #2</text>
<text x="2380.50" y="1078.10" font-size="7.00" fill="#3d4f6b" textLength="15.70" lengthAdjust="spacingAndGlyphs" >$x,xx</text>
<rect x="2033.10" y="1103.60" width="437.80" height="25.00" fill="#eef6fe" />
<g stroke="#111" stroke-width="1.3" stroke-linecap="round"><path d="M2049.5,1111.5 L2049.5,1120.5"/><path d="M2045.6,1113.75 L2053.4,1118.25"/><path d="M2045.6,1118.25 L2053.4,1113.75"/></g>
<text x="2058.50" y="1120.00" font-size="10.10" fill="#1c2d4c" font-weight="700" word-spacing="-0.81" stroke="#1c2d4c" stroke-width="0.20" stroke-linejoin="round" textLength="80.10" lengthAdjust="spacingAndGlyphs" >You May Also Like</text>
<rect x="2033.50" y="1148.60" width="140.30" height="81.80" fill="#eef6fe" />
<g fill="none" stroke="#03a4fe" stroke-width="3.2" stroke-linecap="round" stroke-linejoin="round">
<rect x="2080.60" y="1176.20" width="34.80" height="27.10" rx="4.56"/>
<path d="M2080.60,1192.78 L2087.74,1187.02 Q2090.32,1185.05 2092.91,1187.02 L2105.60,1202.78"/>
<path d="M2100.47,1192.33 L2102.94,1190.66 Q2105.49,1188.99 2108.07,1190.66 L2115.29,1195.81"/>
<path d="M2103.51,1192.78 L2110.73,1198.54"/>
</g>
<rect x="2033.50" y="1238.40" width="140.30" height="33.10" rx="3" fill="#03a4fe" />
<text x="2103.65" y="1252.60" font-size="13.60" fill="#ffffff" font-weight="700" word-spacing="-1.09" stroke="#ffffff" stroke-width="0.27" stroke-linejoin="round" text-anchor="middle" textLength="117.50" lengthAdjust="spacingAndGlyphs" >Get Special Offer</text>
<text x="2103.65" y="1265.00" font-size="9.00" fill="#e6f5ff" text-anchor="middle" textLength="108.40" lengthAdjust="spacingAndGlyphs" >Yes I Want This Special Offer</text>
<rect x="2181.90" y="1148.60" width="140.60" height="81.80" fill="#eef6fe" />
<g fill="none" stroke="#03a4fe" stroke-width="3.2" stroke-linecap="round" stroke-linejoin="round">
<rect x="2234.90" y="1176.20" width="34.80" height="27.10" rx="4.56"/>
<path d="M2234.90,1192.78 L2242.04,1187.02 Q2244.62,1185.05 2247.21,1187.02 L2259.90,1202.78"/>
<path d="M2254.77,1192.33 L2257.24,1190.66 Q2259.79,1188.99 2262.37,1190.66 L2269.59,1195.81"/>
<path d="M2257.81,1192.78 L2265.03,1198.54"/>
</g>
<rect x="2181.90" y="1238.40" width="140.60" height="33.10" rx="3" fill="#03a4fe" />
<text x="2252.20" y="1252.60" font-size="13.60" fill="#ffffff" font-weight="700" word-spacing="-1.09" stroke="#ffffff" stroke-width="0.27" stroke-linejoin="round" text-anchor="middle" textLength="117.50" lengthAdjust="spacingAndGlyphs" >Get Special Offer</text>
<text x="2252.20" y="1265.00" font-size="9.00" fill="#e6f5ff" text-anchor="middle" textLength="108.40" lengthAdjust="spacingAndGlyphs" >Yes I Want This Special Offer</text>
<rect x="2330.00" y="1148.60" width="140.90" height="81.80" fill="#eef6fe" />
<g fill="none" stroke="#03a4fe" stroke-width="3.2" stroke-linecap="round" stroke-linejoin="round">
<rect x="2383.20" y="1176.20" width="34.80" height="27.10" rx="4.56"/>
<path d="M2383.20,1192.78 L2390.34,1187.02 Q2392.92,1185.05 2395.51,1187.02 L2408.20,1202.78"/>
<path d="M2403.07,1192.33 L2405.54,1190.66 Q2408.09,1188.99 2410.67,1190.66 L2417.89,1195.81"/>
<path d="M2406.11,1192.78 L2413.33,1198.54"/>
</g>
<rect x="2330.00" y="1238.40" width="140.90" height="33.10" rx="3" fill="#03a4fe" />
<text x="2400.45" y="1252.60" font-size="13.60" fill="#ffffff" font-weight="700" word-spacing="-1.09" stroke="#ffffff" stroke-width="0.27" stroke-linejoin="round" text-anchor="middle" textLength="117.50" lengthAdjust="spacingAndGlyphs" >Get Special Offer</text>
<text x="2400.45" y="1265.00" font-size="9.00" fill="#e6f5ff" text-anchor="middle" textLength="108.40" lengthAdjust="spacingAndGlyphs" >Yes I Want This Special Offer</text>
<circle cx="626.0" cy="389.6" r="22.4" fill="none" stroke="#03a4fe" stroke-width="2.4"/>
<path d="M620.00,378.70 L632.40,389.60 L620.00,400.50" fill="none" stroke="#03a4fe" stroke-width="2"/>
<circle cx="1271.4" cy="389.6" r="22.4" fill="none" stroke="#03a4fe" stroke-width="2.4"/>
<path d="M1265.40,378.70 L1277.80,389.60 L1265.40,400.50" fill="none" stroke="#03a4fe" stroke-width="2"/>
<circle cx="1914.4" cy="389.6" r="22.4" fill="none" stroke="#03a4fe" stroke-width="2.4"/>
<path d="M1908.40,378.70 L1920.80,389.60 L1908.40,400.50" fill="none" stroke="#03a4fe" stroke-width="2"/>
<circle cx="2251.5" cy="690.0" r="22.4" fill="none" stroke="#03a4fe" stroke-width="2.4"/>
<path d="M2240.60,684.30 L2251.50,695.90 L2262.40,684.30" fill="none" stroke="#03a4fe" stroke-width="2"/>
<circle cx="957.4" cy="1018.6" r="22.4" fill="none" stroke="#03a4fe" stroke-width="2.4"/>
<path d="M946.50,1012.90 L957.40,1024.50 L968.30,1012.90" fill="none" stroke="#03a4fe" stroke-width="2"/>
<circle cx="1224.4" cy="1086.1" r="22.4" fill="none" stroke="#03a4fe" stroke-width="2.4"/>
<path d="M1218.40,1075.20 L1230.80,1086.10 L1218.40,1097.00" fill="none" stroke="#03a4fe" stroke-width="2"/>
<line x1="958.5" y1="783.5" x2="958.5" y2="988.5" stroke="#03a4fe" stroke-width="2.7" stroke-dasharray="6.1,6.67" stroke-dashoffset="3.25"/>
<line x1="1073.7" y1="1087.8" x2="1197.5" y2="1087.8" stroke="#03a4fe" stroke-width="2.5" stroke-dasharray="6.6,7.2" stroke-dashoffset="3.2"/>
<text x="860.00" y="1098.50" font-size="31.00" fill="#03a4fe" font-weight="700" word-spacing="-2.48" stroke="#03a4fe" stroke-width="0.62" stroke-linejoin="round" textLength="194.60" lengthAdjust="spacingAndGlyphs" >AUTOMATION</text>
<text x="1273.00" y="1094.60" font-size="31.00" fill="#03a4fe" font-weight="700" word-spacing="-2.48" stroke="#03a4fe" stroke-width="0.62" stroke-linejoin="round" textLength="221.70" lengthAdjust="spacingAndGlyphs" >NEXT FUNNELS</text>
</svg>
</body></html>
